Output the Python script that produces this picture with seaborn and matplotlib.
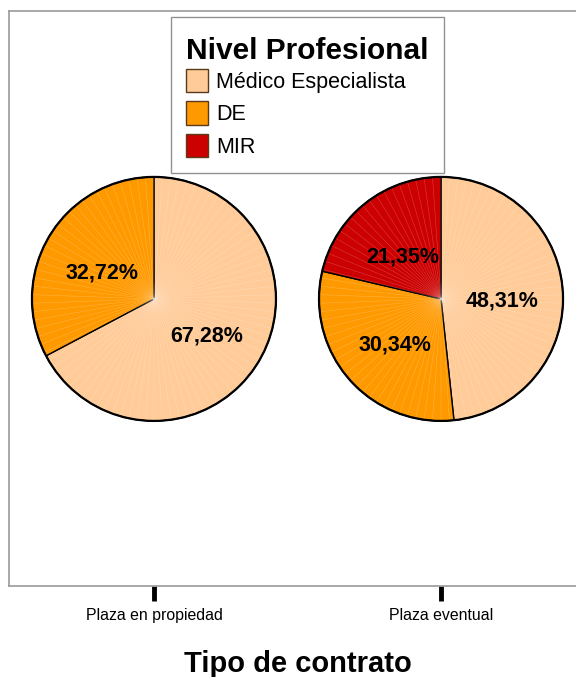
import numpy as np
import matplotlib
matplotlib.use("Agg")
import matplotlib.pyplot as plt
import matplotlib.transforms as mtransforms
from matplotlib.patches import Patch, Circle
import seaborn as sns

# Data
contracts = ["Plaza en propiedad", "Plaza eventual"]
levels = ["Médico Especialista", "DE", "MIR"]
propiedad = [67.28, 32.72, 0.0]
eventual = [48.31, 30.34, 21.35]
level_colors = ["#FFCC99", "#FF9900", "#CC0000"]

sns.set_theme(style="white")
plt.rcParams["font.family"] = ["Liberation Sans", "DejaVu Sans"]
plt.rcParams["text.color"] = "black"
plt.rcParams["xtick.color"] = "black"

fig = plt.figure(figsize=(5.76, 6.77), dpi=100)
W, H = 576, 677
# axes frame: left 9px, top 11px, bottom 586px, runs past the right edge
ax = fig.add_axes([9 / W, (H - 586) / H, 577 / W, 575 / H])

palette = sns.color_palette(level_colors)
radius = 0.425
cy = 1.0
label_drop = 0.02  # nudge the percentage labels slightly downward

for i, vals in enumerate([propiedad, eventual]):
    v = np.array(vals)
    keep = v > 0
    wedges, texts, autotexts = ax.pie(
        v[keep],
        colors=[palette[k] for k in range(len(v)) if keep[k]],
        startangle=90,
        counterclock=False,
        center=(i, cy),
        radius=radius,
        frame=True,
        autopct=lambda p: f"{p:.2f}%".replace(".", ","),
        pctdistance=0.5,
        wedgeprops=dict(edgecolor="black", linewidth=1.0),
        textprops=dict(fontsize=15.5, fontweight="bold", color="black"),
    )
    for t in autotexts:
        x, y = t.get_position()
        t.set_position((x, y - label_drop))
        t.set_zorder(5)
    # faint radial texture across the disc
    ax.pie(
        np.ones(90),
        startangle=90,
        counterclock=False,
        center=(i, cy),
        radius=radius,
        frame=True,
        colors=["none"],
        wedgeprops=dict(edgecolor="white", linewidth=0.4, alpha=0.13),
    )
    ax.add_patch(Circle((i, cy), radius, fill=False, edgecolor="black",
                        linewidth=1.6, zorder=4))

ax.set_aspect("equal")
ax.set_xlim(-0.505, 1.505)
ax.set_ylim(0, 2.003)
ax.set_xticks([0, 1])
ax.set_xticklabels(contracts, fontsize=11.4, color="black")
ax.set_yticks([])
ax.set_xlabel("Tipo de contrato", fontsize=21, fontweight="bold", labelpad=19.5,
              color="black")
ax.tick_params(axis="x", direction="out", length=11, width=3.5, color="black",
               pad=4.5, bottom=True)
for side in ["left", "top", "bottom", "right"]:
    ax.spines[side].set_visible(True)
    ax.spines[side].set_color("#9a9a9a")
    ax.spines[side].set_linewidth(1.2)

handles = [Patch(facecolor=c, edgecolor="#5a3a1a", linewidth=1.0) for c in palette]
leg = ax.legend(
    handles, levels,
    title="Nivel Profesional",
    loc="upper left",
    bbox_to_anchor=((171 - 9) / 577, 1 - (17 - 11) / 575),
    borderaxespad=0,
    fontsize=15.5,
    title_fontproperties=dict(size=21.5, weight="bold"),
    frameon=True,
    fancybox=False,
    edgecolor="#777777",
    handlelength=1.0,
    handleheight=1.3,
    handletextpad=0.4,
    labelspacing=0.4,
    borderpad=0.7,
)
leg.get_frame().set_linewidth(1.0)
title = leg.get_title()
title.set_color("black")
# sit the title a little lower inside the box
title.set_transform(title.get_transform() + mtransforms.Affine2D().translate(0, -5))
for t in leg.get_texts():
    t.set_color("black")
leg._legend_box.align = "left"

fig.savefig("out.png", dpi=100)
